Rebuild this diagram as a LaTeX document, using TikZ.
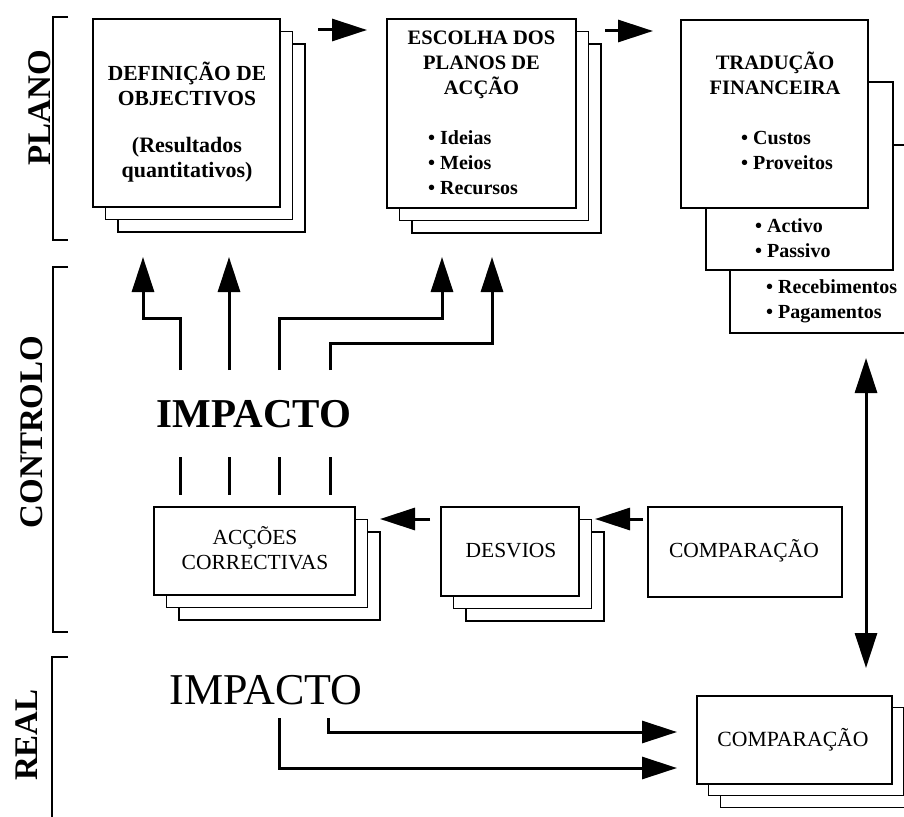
\documentclass[tikz,border=0pt]{standalone}
\usepackage{fontspec}
\setmainfont{Liberation Serif}
\usetikzlibrary{arrows.meta,shadows}

\tikzset{
	card/.style={draw, fill=white, line width=1.2pt, inner sep=0pt, outer sep=0pt},
	stack/.style={double copy shadow={shadow xshift=#1, shadow yshift=-#1, draw, fill=white, line width=1.2pt}},
	stack/.default=12.5pt,
	cardtext/.style={font=\bfseries\fontsize{20.5}{25}\selectfont, align=center, inner sep=0pt},
	listtext/.style={font=\bfseries\fontsize{20}{25}\selectfont, align=left, anchor=west, inner sep=0pt},
	lowtext/.style={font=\fontsize{21.5}{25}\selectfont, align=center, inner sep=0pt},
	side/.style={font=\bfseries\fontsize{33}{33}\selectfont, rotate=90, anchor=base, inner sep=0pt},
	bracket/.style={line width=2.5pt},
	link/.style={line width=3pt},
	bigarrow/.style={line width=3pt, ->}
}

\begin{document}
\begin{tikzpicture}[x=1pt, y=-1pt, >={Triangle[length=35pt,width=22pt]}]
	\useasboundingbox (0,0) rectangle (904,816);
	\clip (0,0) rectangle (904,816);

	\draw[bracket] (68,17) -- (53,17) -- (53,240) -- (68,240);
	\draw[bracket] (68,267) -- (53,267) -- (53,632) -- (68,632);
	\draw[bracket] (68,657) -- (52,657) -- (52,830);
	\node[side] (plano) at (50,108) {PLANO};
	\node[side] (controlo) at (42,432) {CONTROLO};
	\node[side] (real) at (37,735) {REAL};

	\node[card, stack, minimum width=187pt, minimum height=188pt] (def) at (186.5,113) {};
	\node[cardtext, font=\bfseries\fontsize{21.5}{25}\selectfont] (deftitle) at (187,83.5) {DEFINIÇÃO DE\\OBJECTIVOS};
	\node[cardtext, font=\bfseries\fontsize{22}{25}\selectfont] (defnote) at (187,160) {(Resultados\\quantitativos)};

	\node[card, stack, minimum width=189pt, minimum height=189pt] (esc) at (481.5,113.5) {};
	\node[cardtext] (esctitle) at (481.5,65) {ESCOLHA DOS\\PLANOS DE\\ACÇÃO};
	\node[listtext] (esclist) at (428,163) {\textbullet\ Ideias\\\textbullet\ Meios\\\textbullet\ Recursos};

	\node[card, minimum width=188pt, minimum height=188pt] (trad3) at (824,239) {};
	\node[listtext] (trad3list) at (766,301) {\textbullet\ Recebimentos\\\textbullet\ Pagamentos};
	\node[card, minimum width=187pt, minimum height=188pt] (trad2) at (799.5,176) {};
	\node[listtext] (trad2list) at (755,238.5) {\textbullet\ Activo\\\textbullet\ Passivo};
	\node[card, minimum width=187pt, minimum height=188pt] (trad) at (774.5,114) {};
	\node[cardtext] (tradtitle) at (775,73.5) {TRADUÇÃO\\FINANCEIRA};
	\node[listtext] (tradlist) at (741,150.5) {\textbullet\ Custos\\\textbullet\ Proveitos};

	\draw[bigarrow] ([xshift=38pt,yshift=-11pt]def.north east) -- ([xshift=-20pt,yshift=-11pt]esc.north west);
	\draw[bigarrow] ([xshift=29pt,yshift=-12pt]esc.north east) -- ([xshift=-28pt,yshift=-11pt]trad.north west);

	\node[font=\bfseries\fontsize{41}{41}\selectfont, anchor=base, inner sep=0pt] (impc) at (254,427) {IMPACTO};

	\foreach \x [count=\i] in {180,229,279,330} {
		\coordinate (foot\i) at (\x,370);
		\coordinate (dash\i) at (\x,457);
		\draw[link] (dash\i) -- ++(0,38);
	}
	\coordinate (tip1) at (143,257);
	\coordinate (tip2) at (229,257);
	\coordinate (tip3) at (442,257);
	\coordinate (tip4) at (492,257);

	\draw[bigarrow] (foot1) -- ++(0,-52) -| (tip1);
	\draw[bigarrow] (foot2) -- (tip2);
	\draw[bigarrow] (foot3) -- ++(0,-52) -| (tip3);
	\draw[bigarrow] (foot4) -- ++(0,-27) -| (tip4);

	\node[card, stack, minimum width=201pt, minimum height=88pt] (acc) at (254.5,551) {};
	\node[lowtext] (acctext) at (255,548) {ACÇÕES\\CORRECTIVAS};
	\node[card, stack, minimum width=138pt, minimum height=89pt] (desv) at (510,551.5) {};
	\node[lowtext, anchor=base] (desvtext) at (511,557) {DESVIOS};
	\node[card, minimum width=194pt, minimum height=90pt] (comp) at (745,552) {};
	\node[lowtext, anchor=base] (comptext) at (744,557) {COMPARAÇÃO};

	\draw[bigarrow] ([xshift=-5pt,yshift=-12pt]comp.north west) -- ([xshift=16pt,yshift=-12pt]desv.north east);
	\draw[bigarrow] ([xshift=-11pt,yshift=-12pt]desv.north west) -- ([xshift=25pt,yshift=-12pt]acc.north east);

	\node[card, stack=11.8pt, minimum width=195pt, minimum height=88pt] (compr) at (794.5,740) {};
	\node[font=\fontsize{21.7}{25}\selectfont, anchor=base, inner sep=0pt] (comprtext) at (793,746) {COMPARAÇÃO};

	\coordinate (vtop) at (866,358);
	\coordinate (vbot) at (866,668);
	\draw[line width=3pt, <->] (vtop) -- (vbot);

	\node[font=\fontsize{44}{44}\selectfont, anchor=base, inner sep=0pt] (impr) at (266,704) {IMPACTO};
	\coordinate (rf1) at (279,718);
	\coordinate (rf2) at (328,718);
	\coordinate (rt1) at (677,768);
	\coordinate (rt2) at (677,732);
	\draw[bigarrow] (rf1) |- (rt1);
	\draw[bigarrow] (rf2) |- (rt2);
\end{tikzpicture}
\end{document}
